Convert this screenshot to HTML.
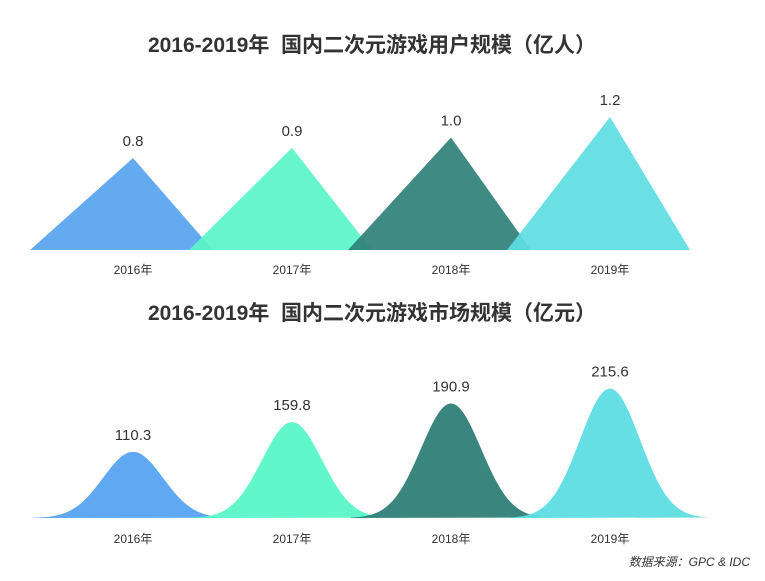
<!DOCTYPE html>
<html><head><meta charset="utf-8">
<style>
html,body{margin:0;padding:0;background:#fff;}
body{width:765px;height:576px;overflow:hidden;font-family:"Liberation Sans","Noto Sans CJK SC",sans-serif;}
.ttl{white-space:pre;}
</style></head>
<body>
<svg id="c" width="765" height="576" xmlns="http://www.w3.org/2000/svg">
  <text class="ttl" x="372" y="52" text-anchor="middle" font-size="21" font-weight="bold" fill="#333" font-family="Liberation Sans,Noto Sans CJK SC,sans-serif">2016-2019年  国内二次元游戏用户规模（亿人）</text>
  <text class="ttl" x="372" y="320" text-anchor="middle" font-size="21" font-weight="bold" fill="#333" font-family="Liberation Sans,Noto Sans CJK SC,sans-serif">2016-2019年  国内二次元游戏市场规模（亿元）</text>
  <g id="topg"></g>
  <g id="botg"></g>
  <text x="750" y="566" text-anchor="end" font-size="12" font-style="italic" fill="#333" font-family="Liberation Sans,Noto Sans CJK SC,sans-serif">数据来源：GPC &amp; IDC</text>
</svg>
<script>
const years = ["2016年","2017年","2018年","2019年"];
const users = [0.8, 0.9, 1.0, 1.2];
const userLabels = ["0.8","0.9","1.0","1.2"];
const market = [110.3, 159.8, 190.9, 215.6];
const marketLabels = ["110.3","159.8","190.9","215.6"];
const colors = ["#57a3f0","#5af5c8","#2f8077","#5ddde3"];
const NS = "http://www.w3.org/2000/svg";
function xPos(i){ return 133 + i*159; }
function yUser(v){ return 250 - (10 + v*102.5); }
function yMarket(v){ return 518 - v*0.6; }
function mk(tag, attrs, parent){
  const e = document.createElementNS(NS, tag);
  for (const k in attrs) e.setAttribute(k, attrs[k]);
  parent.appendChild(e); return e;
}
const gTop = document.getElementById("topg");
const gBot = document.getElementById("botg");
users.forEach((v,i)=>{
  const cx = xPos(i), ay = yUser(v);
  const p = mk("polygon",{points:`${cx-103},250 ${cx},${ay} ${cx+80},250`,fill:colors[i],"fill-opacity":"0.92"},gTop);
  
  
  const t = mk("text",{x:cx,y:ay-12,"text-anchor":"middle","font-size":"15",fill:"#333"},gTop);
  t.textContent = userLabels[i];
  
  
  const y = mk("text",{x:cx,y:274,"text-anchor":"middle","font-size":"12",fill:"#333"},gTop);
  y.textContent = years[i];
  
  
});
market.forEach((v,i)=>{
  const cx = xPos(i), py = yMarket(v), h = 518 - py, s = 30;
  let d = `M${cx-100},518`;
  for (let x=-100; x<=100; x+=2){
    const y = 518 - h*Math.exp(-(x*x)/(2*s*s));
    d += ` L${cx+x},${y.toFixed(2)}`;
  }
  d += " Z";
  const p = mk("path",{d:d,fill:colors[i],"fill-opacity":"0.95"},gBot);
  
  
  const t = mk("text",{x:cx,y:py-12,"text-anchor":"middle","font-size":"15",fill:"#333"},gBot);
  t.textContent = marketLabels[i];
  
  
  const y = mk("text",{x:cx,y:543,"text-anchor":"middle","font-size":"12",fill:"#333"},gBot);
  y.textContent = years[i];
  
  
});
</script>
</body></html>
